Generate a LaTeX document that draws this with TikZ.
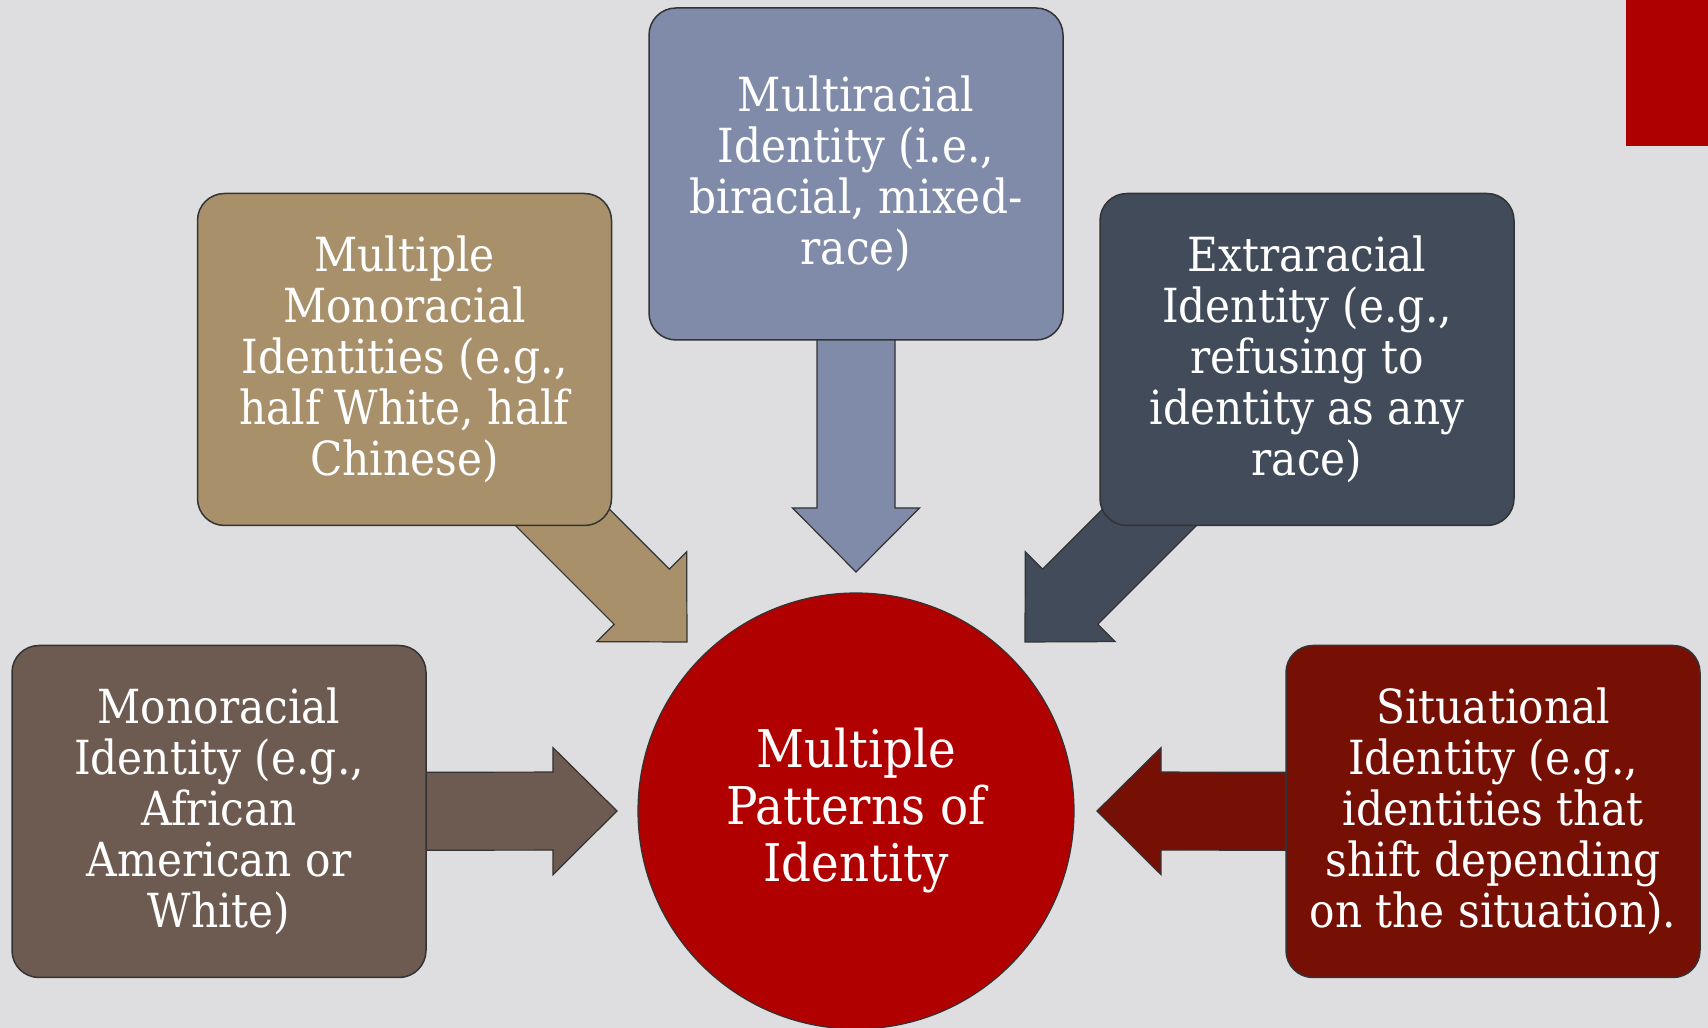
\documentclass[tikz,border=0pt]{standalone}
\usepackage{fontspec}
\setmainfont{DejaVu Serif}[FakeStretch=0.9]
\usepackage{tikz}
\usetikzlibrary{positioning,calc,backgrounds}

\definecolor{slidebg}{HTML}{DEDEE0}
\definecolor{slateblue}{HTML}{7F8BA8}
\definecolor{sandtan}{HTML}{A8906B}
\definecolor{earthbrown}{HTML}{6D5B51}
\definecolor{nightslate}{HTML}{414B5A}
\definecolor{deepmaroon}{HTML}{761005}
\definecolor{corered}{HTML}{B00000}
\definecolor{accentred}{HTML}{AE0000}
\definecolor{edgegray}{HTML}{333333}

% block arrow: #1 colour, #2 source node, #3 tip coordinate
\newcommand{\blockarrow}[3]{%
  \coordinate (hb) at ($(#3)!64pt!(#2.center)$);
  \filldraw[fill=#1, draw=edgegray, line width=1.2pt, line join=miter]
    ($(#2.center)!39pt!90:(#3)$) -- ($(hb)!39pt!90:(#3)$) -- ($(hb)!63.5pt!90:(#3)$)
    -- (#3) -- ($(hb)!63.5pt!-90:(#3)$) -- ($(hb)!39pt!-90:(#3)$)
    -- ($(#2.center)!39pt!-90:(#3)$) -- cycle;
}

\begin{document}
\begin{tikzpicture}[x=1pt,y=1pt]
    \tikzset{idbox/.style={draw=edgegray, line width=1.5pt, rounded corners=27pt,
        minimum width=414pt, minimum height=332pt, inner sep=0pt,
        text=white, align=center, font=\fontsize{47}{51}\selectfont}}
    \tikzset{core/.style={circle, draw=edgegray, line width=1.2pt, fill=corered,
        minimum size=436pt, inner sep=0pt,
        text=white, align=center, font=\fontsize{52}{57}\selectfont}}
    \useasboundingbox (0,0) rectangle (1708,1028);

    \node [core] (core) at (856,217) {Multiple\\Patterns of\\Identity};

    \node [idbox, fill=slateblue] (multi) at (856,854)
        {Multiracial\\Identity (i.e.,\\biracial, mixed-\\race)};
    \node [idbox, fill=sandtan] (mono2) at (404.5,668.5)
        {Multiple\\Monoracial\\Identities (e.g.,\\half White, half\\Chinese)};
    \node [idbox, fill=nightslate] (extra) at (1307,668.5)
        {Extraracial\\Identity (e.g.,\\refusing to\\identity as any\\race)};
    \node [idbox, fill=earthbrown] (mono) at (219,216.5)
        {Monoracial\\Identity (e.g.,\\African\\American or\\White)};
    \node [idbox, fill=deepmaroon] (situ) at (1493,216.5)
        {Situational\\Identity (e.g.,\\identities that\\shift depending\\on the situation).};

    % arrow tips, 239pt from the centre of the circle
    \coordinate (tipN)  at ($(core.center)+(90:239)$);
    \coordinate (tipNW) at ($(core.center)+(135:239)$);
    \coordinate (tipNE) at ($(core.center)+(45:239)$);
    \coordinate (tipW)  at ($(core.center)+(180:239)$);
    \coordinate (tipE)  at ($(core.center)+(0:241)$);

    \begin{pgfonlayer}{background}
    \fill [slidebg] (0,0) rectangle (1708,1028);
    \fill [accentred] (1626,882) rectangle (1708,1028);
    \blockarrow{slateblue}{multi}{tipN}
    \blockarrow{sandtan}{mono2}{tipNW}
    \blockarrow{nightslate}{extra}{tipNE}
    \blockarrow{earthbrown}{mono}{tipW}
    \blockarrow{deepmaroon}{situ}{tipE}
    \end{pgfonlayer}
\end{tikzpicture}
\end{document}
